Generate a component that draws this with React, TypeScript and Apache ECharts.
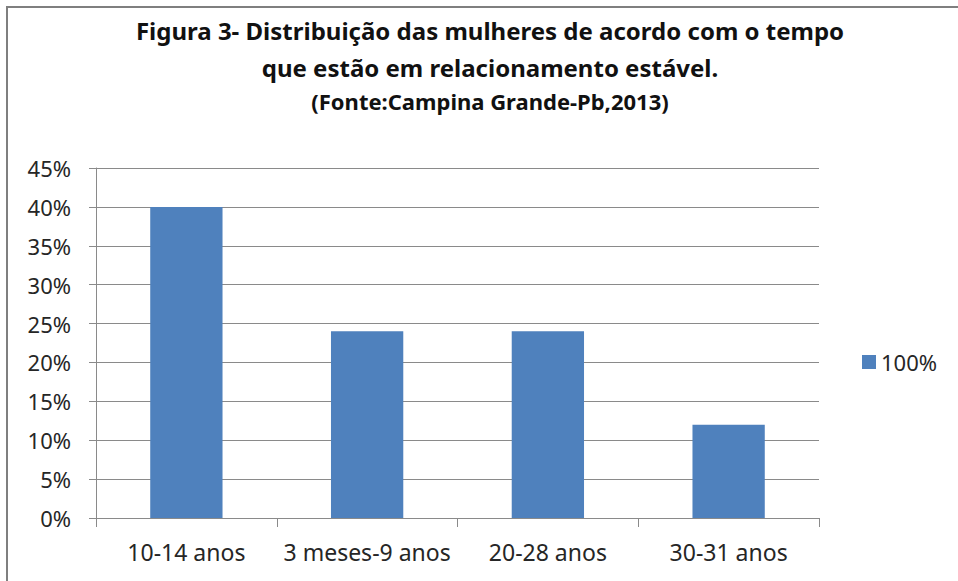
import React, { useEffect, useRef } from "react";
import * as echarts from "echarts";

const categories = ["10-14 anos", "3 meses-9 anos", "20-28 anos", "30-31 anos"];
const values = [40, 24, 24, 12];
const seriesName = "100%";
const titleLines = [
  "Figura 3- Distribuição das mulheres de acordo com o tempo",
  "que estão em relacionamento estável.",
  "(Fonte:Campina Grande-Pb,2013)",
];

export default function App() {
  const ref = useRef<HTMLDivElement>(null);
  useEffect(() => {
    if (!ref.current) return;
    const chart = echarts.init(ref.current, null, { renderer: "svg" });
    const font = "'Noto Sans', sans-serif";
    const text = "#262626";
    const gray = "#8a8a8a";
    chart.setOption({
      animation: false,
      backgroundColor: "#ffffff",
      textStyle: { fontFamily: font },
      title: [
        { text: titleLines[0], left: 485, top: 13, textAlign: "center", textStyle: { fontFamily: font, fontWeight: "bold", fontSize: 24, color: "#111" } },
        { text: titleLines[1], left: 485, top: 50, textAlign: "center", textStyle: { fontFamily: font, fontWeight: "bold", fontSize: 24, color: "#111" } },
        { text: titleLines[2], left: 485, top: 85, textAlign: "center", textStyle: { fontFamily: font, fontWeight: "bold", fontSize: 22, color: "#111" } },
      ],
      graphic: [
        { type: "rect", shape: { x: 7, y: 7, width: 1200, height: 1200 }, style: { fill: "none", stroke: "#7f7f7f", lineWidth: 2 } },
      ],
      legend: {
        left: 857,
        top: 346,
        icon: "rect",
        itemWidth: 14,
        itemHeight: 14,
        itemGap: 8,
        textStyle: { fontFamily: font, fontSize: 22, color: text },
        data: [seriesName],
      },
      grid: { left: 96, right: 139, top: 168, bottom: 63, containLabel: false },
      xAxis: {
        type: "category",
        data: categories,
        boundaryGap: true,
        axisLine: { show: true, lineStyle: { color: gray, width: 1 } },
        axisTick: { show: true, length: 9, lineStyle: { color: gray } },
        axisLabel: { fontFamily: font, fontSize: 23, color: text, margin: 22, interval: 0 },
        splitLine: { show: false },
      },
      yAxis: {
        type: "value",
        min: 0,
        max: 45,
        interval: 5,
        axisLine: { show: true, lineStyle: { color: gray, width: 1 } },
        axisTick: { show: true, length: 7, lineStyle: { color: gray } },
        axisLabel: { fontFamily: font, fontSize: 22, color: text, margin: 25, formatter: "{value}%" },
        splitLine: { show: true, lineStyle: { color: gray, width: 1 } },
      },
      series: [
        {
          name: seriesName,
          type: "bar",
          data: values,
          barWidth: "40%",
          itemStyle: { color: "#4f81bd" },
        },
      ],
    });
    return () => chart.dispose();
  }, []);
  return (
    <div
      ref={ref}
      style={{ position: "fixed", left: 0, top: 0, width: 958, height: 581 }}
    />
  );
}
